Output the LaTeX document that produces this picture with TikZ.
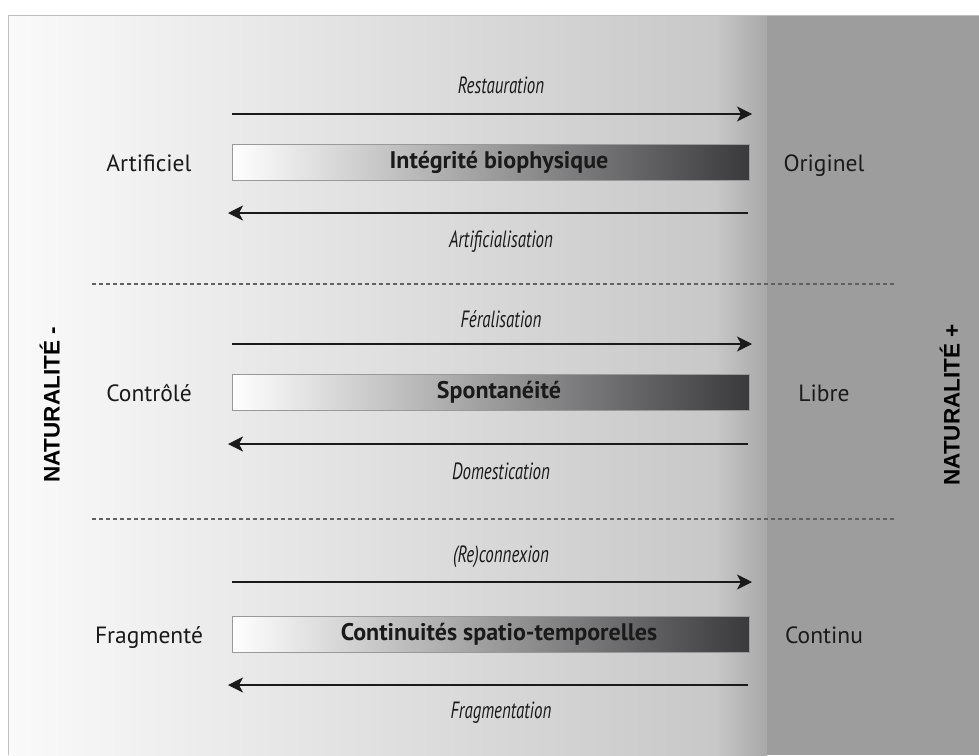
\documentclass[tikz,border=0pt]{standalone}
\usepackage{fontspec}
\setmainfont{PT Sans}
\newfontfamily\narrowfont[FakeStretch=0.72]{PT Sans}
\newfontfamily\sidefont{Liberation Sans}
\usetikzlibrary{arrows.meta}
\definecolor{inkgray}{HTML}{1A1A1A}
\definecolor{bgleft}{HTML}{FAFAFA}
\definecolor{bgmid}{HTML}{C8C8C8}
\definecolor{bgband}{HTML}{A8A8A8}
\definecolor{bgright}{HTML}{9D9D9D}
\definecolor{barmid}{HTML}{BCBCBC}
\definecolor{bardark}{HTML}{3A3A3C}

\begin{document}
\begin{tikzpicture}[x=1pt, y=-1pt,
		tip/.style={-{Stealth[length=15pt, width=15pt, inset=4pt]}, line width=1.2pt, color=inkgray},
		bar/.style={draw=black!40, line width=0.8pt, left color=white, middle color=barmid, right color=bardark,
			minimum width=517pt, minimum height=36pt, inner sep=0pt, text=inkgray,
			font=\fontsize{24}{26}\selectfont\bfseries},
		endlabel/.style={text=inkgray, inner sep=0pt, text height=16pt, text depth=0pt,
			font=\fontsize{23.5}{26}\selectfont},
		actlabel/.style={text=inkgray, inner sep=0pt, text height=15pt, text depth=0pt,
			font=\narrowfont\itshape\fontsize{23.5}{26}\selectfont},
		sidelabel/.style={rotate=90, text=black, inner sep=0pt, text height=17pt, text depth=0pt,
			font=\sidefont\bfseries\fontsize{22.5}{24}\selectfont},
		sep/.style={line width=1.2pt, color=black!62, dash pattern=on 4pt off 3pt}]
			%%%%% START %%%%%
			
			\useasboundingbox (0, 0) rectangle (979, 755);
			\fill[white] (0, 0) rectangle (979, 755);
			
			% background
			\shade[left color=bgleft, right color=bgmid] (8, 15) rectangle (715, 755);
			\shade[left color=bgmid, right color=bgband] (715, 15) rectangle (767, 755);
			\fill[bgright] (767, 15) rectangle (979, 755);
			\draw[line width=0.8pt, color=black!25] (8, 755) -- (8, 15) -- (979, 15);
			
			% side labels
			\node[sidelabel] (natminus) at (51, 405) {NATURALITÉ -};
			\node[sidelabel] (natplus) at (951, 405) {NATURALITÉ +};
			
			% separators
			\coordinate (sepAl) at (92, 284);
			\coordinate (sepAr) at (895, 284);
			\coordinate (sepBl) at (92, 519);
			\coordinate (sepBr) at (895, 519);
			\draw[sep] (sepAl) -- (sepAr);
			\draw[sep] (sepBl) -- (sepBr);
			
			% integrite biophysique
			\node[bar] (integrite) at (490.5, 162) {\hspace*{17pt}Intégrité biophysique};
			\node[endlabel] (artificiel) at (149, 163) {Artificiel};
			\node[endlabel] (originel) at (824, 163) {Originel};
			\coordinate (restS) at (232, 114);
			\coordinate (restE) at (752, 114);
			\coordinate (artS) at (748, 213);
			\coordinate (artE) at (228, 213);
			\draw[tip] (restS) -- (restE);
			\draw[tip] (artS) -- (artE);
			\node[actlabel] (restauration) at (501, 86) {Restauration};
			\node[actlabel] (artificialisation) at (501, 240) {Artificialisation};
			
			% spontaneite
			\node[bar] (spontaneite) at (490.5, 392) {\hspace*{17pt}Spontanéité};
			\node[endlabel] (controle) at (149, 393) {Contrôlé};
			\node[endlabel] (libre) at (824, 393) {Libre};
			\coordinate (ferS) at (232, 344);
			\coordinate (ferE) at (752, 344);
			\coordinate (domS) at (748, 444);
			\coordinate (domE) at (228, 444);
			\draw[tip] (ferS) -- (ferE);
			\draw[tip] (domS) -- (domE);
			\node[actlabel] (feralisation) at (501, 320) {Féralisation};
			\node[actlabel] (domestication) at (501, 472) {Domestication};
			
			% continuites
			\node[bar] (continuites) at (490.5, 634) {\hspace*{17pt}Continuités spatio-temporelles};
			\node[endlabel] (fragmente) at (149, 635) {Fragmenté};
			\node[endlabel] (continu) at (824, 635) {Continu};
			\coordinate (recS) at (232, 582);
			\coordinate (recE) at (752, 582);
			\coordinate (fragS) at (748, 685);
			\coordinate (fragE) at (228, 685);
			\draw[tip] (recS) -- (recE);
			\draw[tip] (fragS) -- (fragE);
			\node[actlabel] (reconnexion) at (501, 555) {(Re)connexion};
			\node[actlabel] (fragmentation) at (501, 711) {Fragmentation};
			
			%%%%% END %%%%%
		\end{tikzpicture}
\end{document}
